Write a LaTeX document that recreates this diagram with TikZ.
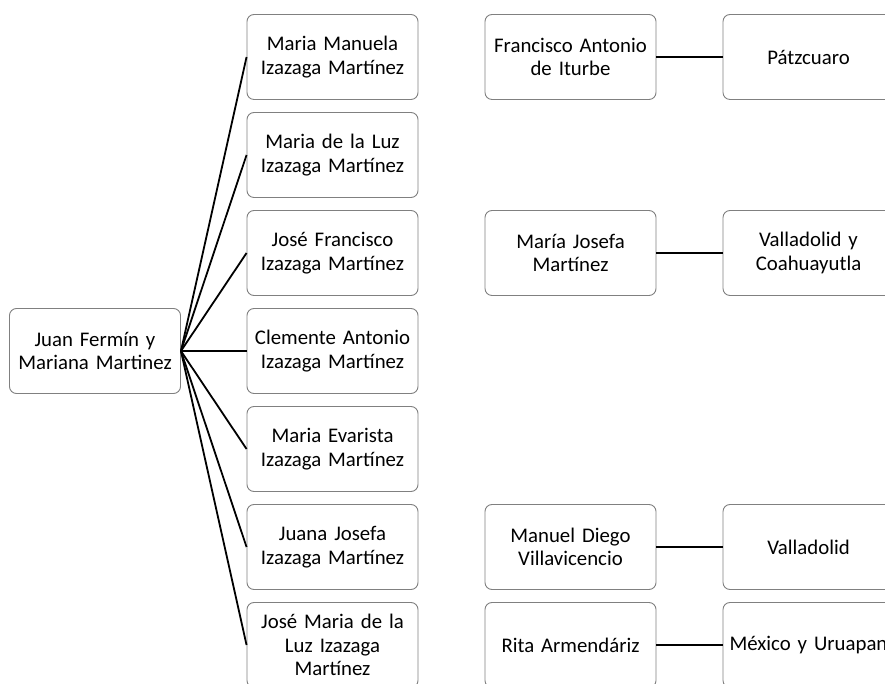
\documentclass[tikz,border=0pt]{standalone}
\usepackage{fontspec}
\setmainfont{Carlito}
\usetikzlibrary{positioning}

\begin{document}
\begin{tikzpicture}[node distance=98pt]

\tikzstyle{bx} = [rectangle, rounded corners=7pt, minimum height=85pt, text width=171pt, inner sep=0pt, align=center, draw=gray, line width=0.9pt, font=\fontsize{20.8}{23.5}\selectfont]
\tikzstyle{ln} = [line width=1.8pt, black]
\useasboundingbox (-95pt,351pt) rectangle (790pt,-333pt);
\node (root) [bx] {Juan Fermín y\\Mariana Martinez};
\node (c4) [bx, right of=root, xshift=139.5pt] {Clemente Antonio\\Izazaga Martínez};
\node (c3) [bx, above of=c4] {José Francisco\\Izazaga Martínez};
\node (c2) [bx, above of=c3] {Maria de la Luz\\Izazaga Martínez};
\node (c1) [bx, above of=c2] {Maria Manuela\\Izazaga Martínez};
\node (c5) [bx, below of=c4] {Maria Evarista\\Izazaga Martínez};
\node (c6) [bx, below of=c5] {Juana Josefa\\Izazaga Martínez};
\node (c7) [bx, below of=c6] {José Maria de la\\Luz Izazaga\\Martínez};
\node (sp1) [bx, right of=c1, xshift=140pt] {Francisco Antonio\\de Iturbe};
\node (pl1) [bx, right of=sp1, xshift=140pt] {Pátzcuaro};
\node (sp3) [bx, right of=c3, xshift=140pt] {María Josefa\\Martínez};
\node (pl3) [bx, right of=sp3, xshift=140pt] {Valladolid y\\Coahuayutla};
\node (sp6) [bx, right of=c6, xshift=140pt] {Manuel Diego\\Villavicencio};
\node (pl6) [bx, right of=sp6, xshift=140pt] {Valladolid};
\node (sp7) [bx, right of=c7, xshift=140pt] {Rita Armendáriz};
\node (pl7) [bx, right of=sp7, xshift=140pt] {México y Uruapan};
\draw [ln] (root.east)--(c1.west);
\draw [ln] (root.east)--(c2.west);
\draw [ln] (root.east)--(c3.west);
\draw [ln] (root.east)--(c4.west);
\draw [ln] (root.east)--(c5.west);
\draw [ln] (root.east)--(c6.west);
\draw [ln] (root.east)--(c7.west);
\draw [ln] (sp1)--(pl1);
\draw [ln] (sp3)--(pl3);
\draw [ln] (sp6)--(pl6);
\draw [ln] (sp7)--(pl7);
\end{tikzpicture}
\end{document}
